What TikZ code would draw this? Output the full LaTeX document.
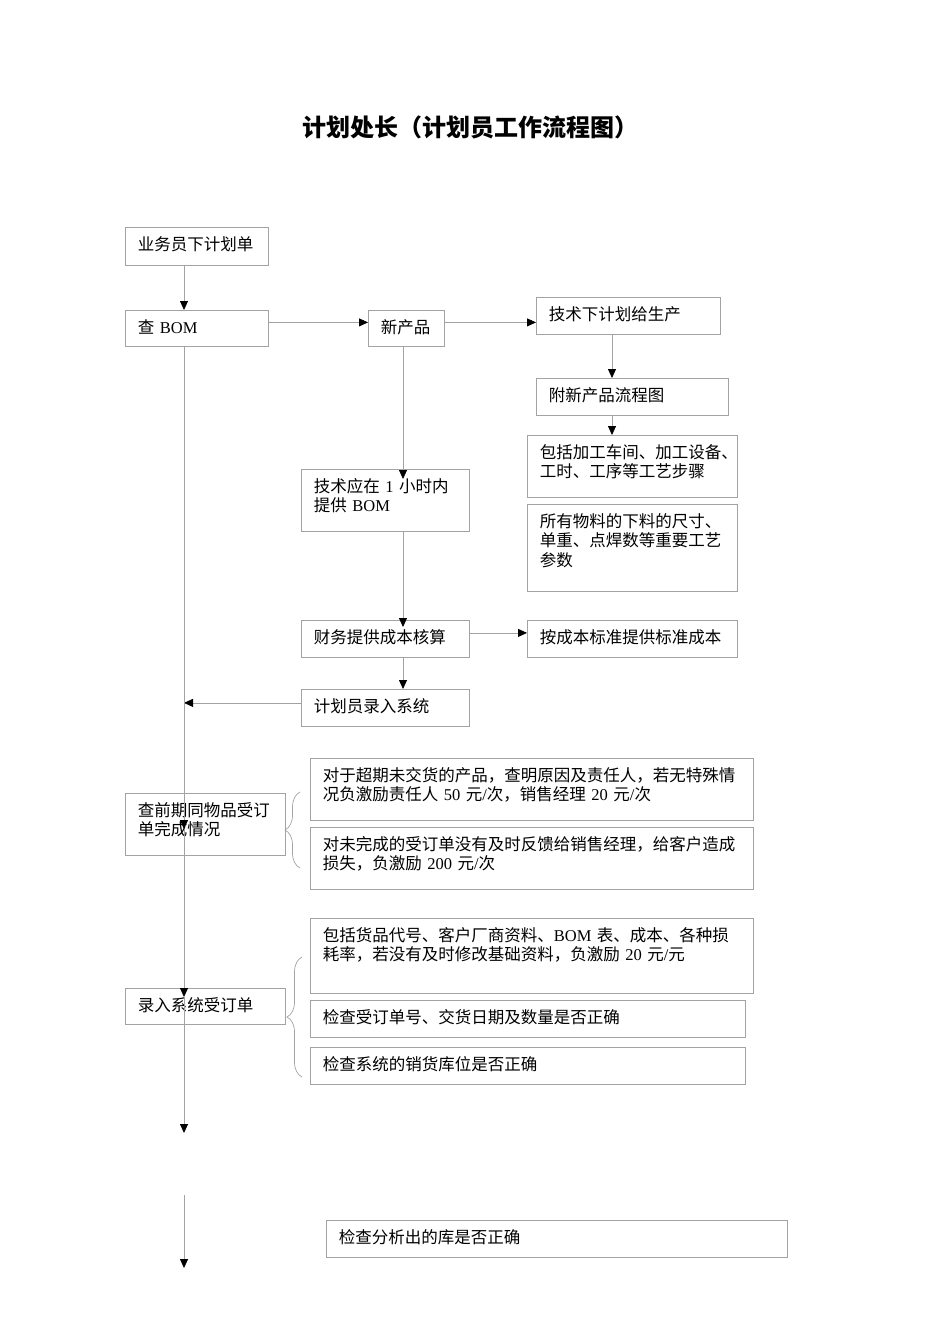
\documentclass[tikz,border=0pt]{standalone}
\usepackage{fontspec}
\setmainfont{Noto Sans CJK SC}
\newfontfamily\latinfont{Liberation Serif}
\usepackage{tikz}
\usetikzlibrary{arrows.meta,decorations.pathreplacing}
\definecolor{linegray}{HTML}{A3A3A3}
\newcommand{\en}[1]{{\latinfont #1}}

\begin{document}
\begin{tikzpicture}[x=1pt,y=-1pt,
   box/.style={draw=linegray,line width=0.8pt,rectangle,anchor=north west,align=left,
     inner xsep=12.5pt,inner ysep=0pt,text height=23pt,font=\fontsize{16.5}{19.5}\selectfont},
   conn/.style={draw=linegray,line width=0.8pt,-{Triangle[color=black,length=9pt,width=8pt]}},
   curly/.style={draw=linegray,line width=0.7pt,decorate,decoration={brace,amplitude=15pt}}]
  \useasboundingbox (0,0) rectangle (950,1344);
  \node[anchor=base,font=\fontsize{24}{28}\selectfont\bfseries] (title) at (470,136) {计划处长（计划员工作流程图）};

  \node[box,text width=118pt,text depth=15pt] (order) at (125,227) {业务员下计划单};
  \node[box,text width=118pt,text depth=13pt] (bom) at (125,310) {查\en{ BOM}};
  \node[box,text width=51pt,text depth=13pt] (newprod) at (368,310) {新产品};
  \node[box,text width=159pt,text depth=14pt] (tech) at (536,297) {技术下计划给生产};
  \node[box,text width=167pt,text depth=14pt] (flow) at (536,378) {附新产品流程图};
  \node[box,text width=185pt,text depth=39pt] (steps) at (527,435) {包括加工车间、加工设备、\\工时、工序等工艺步骤};
  \node[box,text width=185pt,text depth=64pt] (params) at (527,504) {所有物料的下料的尺寸、\\单重、点焊数等重要工艺\\参数};
  \node[box,text width=143pt,text depth=39pt] (supply) at (301,469) {技术应在\en{ 1 }小时内\\提供\en{ BOM}};
  \node[box,text width=143pt,text depth=14pt] (cost) at (301,620) {财务提供成本核算};
  \node[box,text width=185pt,text depth=14pt] (stdcost) at (527,620) {按成本标准提供标准成本};
  \node[box,text width=143pt,text depth=14pt] (entry) at (301,689) {计划员录入系统};
  \node[box,text width=135pt,text depth=39pt] (review) at (125,793) {查前期同物品受订\\单完成情况};
  \node[box,text width=418pt,text depth=39pt] (overdue) at (310,758) {对于超期未交货的产品，查明原因及责任人，若无特殊情\\况负激励责任人\en{ 50 }元\en{/}次，销售经理\en{ 20 }元\en{/}次};
  \node[box,text width=418pt,text depth=39pt] (feedback) at (310,827) {对未完成的受订单没有及时反馈给销售经理，给客户造成\\损失，负激励\en{ 200 }元\en{/}次};
  \node[box,text width=135pt,text depth=13pt] (input) at (125,988) {录入系统受订单};
  \node[box,text width=418pt,text depth=52pt] (basedata) at (310,918) {包括货品代号、客户厂商资料、\en{BOM }表、成本、各种损\\耗率，若没有及时修改基础资料，负激励\en{ 20 }元\en{/}元};
  \node[box,text width=410pt,text depth=14pt] (orderno) at (310,1000) {检查受订单号、交货日期及数量是否正确};
  \node[box,text width=410pt,text depth=14pt] (location) at (310,1047) {检查系统的销货库位是否正确};
  \node[box,text width=436pt,text depth=14pt] (stock) at (326,1220) {检查分析出的库是否正确};

  \coordinate (spine) at (184,0);
  \coordinate (colB) at (403,0);
  \coordinate (colC) at (612,0);
  \coordinate (t1) at (184,829);
  \coordinate (t2) at (184,997);
  \coordinate (t3) at (184,1133);
  \coordinate (t4) at (184,1195);
  \coordinate (t5) at (184,1268);

  \draw[conn] (order.south -| spine) -- (bom.north -| spine);
  \draw[conn] ([yshift=6pt]bom.east) -- ([yshift=6pt]bom.east -| newprod.west);
  \draw[conn] ([yshift=6pt]newprod.east) -- ([yshift=6pt]newprod.east -| tech.west);
  \draw[conn] (tech.south -| colC) -- (flow.north -| colC);
  \draw[conn] (flow.south -| colC) -- (steps.north -| colC);
  \draw[conn] (newprod.south -| colB) -- ([yshift=-10pt]supply.north -| colB);
  \draw[conn] (supply.south -| colB) -- ([yshift=-7pt]cost.north -| colB);
  \draw[conn] ([yshift=6pt]cost.east) -- ([yshift=6pt]cost.east -| stdcost.west);
  \draw[conn] (cost.south -| colB) -- (entry.north -| colB);
  \draw[conn] ([yshift=5pt]entry.west) -- ([yshift=5pt]entry.west -| spine);
  \draw[conn] (bom.south -| spine) -- (t1);
  \draw[conn] (t1) -- (t2);
  \draw[conn] (t2) -- (t3);
  \draw[conn] (t4) -- (t5);

  \draw[curly] (300,868) -- (300,792);
  \draw[curly] (302,1077) -- (302,957);
\end{tikzpicture}
\end{document}
